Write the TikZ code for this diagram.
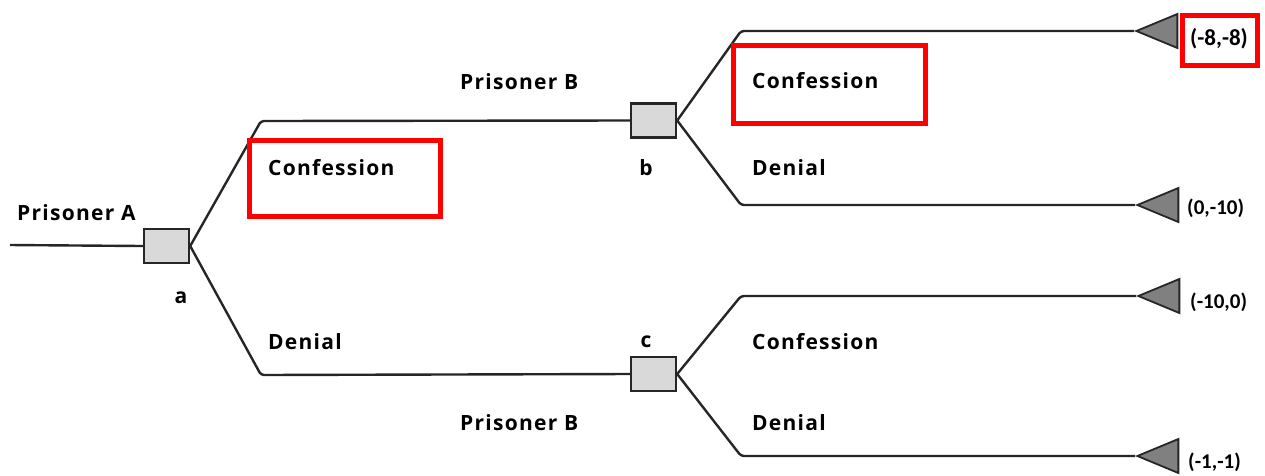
\documentclass[tikz,border=0pt]{standalone}
\usepackage{fontspec}
\setmainfont{Open Sans}
\newfontfamily\lblfont[LetterSpace=6]{Open Sans}
\newfontfamily\payfont{Carlito}
\usetikzlibrary{shapes.geometric}
\definecolor{edgegray}{HTML}{262626}
\definecolor{boxfill}{HTML}{D9D9D9}
\definecolor{tipfill}{HTML}{808080}
\definecolor{markred}{HTML}{FF0000}
\begin{document}
\begin{tikzpicture}[x=1pt,y=-1pt,
  branch/.style={draw=edgegray,line width=2.4pt,rounded corners=3pt},
  decision/.style={draw=edgegray,fill=boxfill,line width=2.4pt,rectangle,
    minimum width=45pt,minimum height=34pt,inner sep=0pt},
  payoff/.style={draw=edgegray,fill=tipfill,line width=1.8pt,isosceles triangle,
    shape border rotate=180,isosceles triangle stretches,
    minimum height=41pt,minimum width=34pt,inner sep=0pt,anchor=apex},
  lbl/.style={font=\lblfont\fontsize{21}{25}\selectfont\bfseries,inner sep=0pt,anchor=west},
  pay/.style={font=\payfont\fontsize{21}{25}\selectfont\bfseries,inner sep=0pt,anchor=west},
  hilite/.style={draw=markred,line width=5pt,rectangle,inner sep=0pt}]
\useasboundingbox (0,0) rectangle (1265,475);

% decision nodes
\node[decision] (a) at (166.5,246) {};
\node[decision] (b) at (653.5,120.5) {};
\node[decision] (c) at (653.5,374) {};

% terminal nodes
\node[payoff] (t1) at (1134,31) {};
\node[payoff] (t2) at (1135,205) {};
\node[payoff] (t3) at (1136,296) {};
\node[payoff] (t4) at (1135,456) {};

% bends of the branches
\coordinate (start) at (10,245);
\coordinate (ka) at (261,121);
\coordinate (kb) at (261,375);
\coordinate (kc) at (741,31);
\coordinate (kd) at (741,205);
\coordinate (ke) at (741,296);
\coordinate (kf) at (741,456);

\draw[branch] (start) -- (a.west);
\draw[branch] (a.east) -- (ka) -- (b.west);
\draw[branch] (a.east) -- (kb) -- (c.west);
\draw[branch] (b.east) -- (kc) -- (t1.apex);
\draw[branch] (b.east) -- (kd) -- (t2.apex);
\draw[branch] (c.east) -- (ke) -- (t3.apex);
\draw[branch] (c.east) -- (kf) -- (t4.apex);

% labels
\node[lbl] (pa) at (17,213) {Prisoner A};
\node[lbl,anchor=center] (la) at (181,298) {a};
\node[lbl] (pb1) at (460,82) {Prisoner B};
\node[lbl] (pb2) at (460,423) {Prisoner B};
\node[lbl] (conf1) at (268,168) {Confession};
\node[lbl] (den1) at (268,342) {Denial};
\node[lbl,anchor=center] (lb) at (646,168) {b};
\node[lbl,anchor=center] (lc) at (646,342) {c};
\node[lbl] (conf2) at (752,81) {Confession};
\node[lbl] (den2) at (752,168) {Denial};
\node[lbl] (conf3) at (752,342) {Confession};
\node[lbl] (den3) at (752,423) {Denial};

% payoffs
\node[pay,font=\payfont\fontsize{23}{27}\selectfont\bfseries] (p1) at (1190,39) {(-8,-8)};
\node[pay] (p2) at (1187,208) {(0,-10)};
\node[pay] (p3) at (1190,302) {(-10,0)};
\node[pay] (p4) at (1188,462) {(-1,-1)};

% highlight frames
\node[hilite,minimum width=191pt,minimum height=76pt] (h1) at (344.5,178) {};
\node[hilite,minimum width=192pt,minimum height=78pt] (h2) at (829,84) {};
\node[hilite,minimum width=75pt,minimum height=50pt] (h3) at (1219.5,40) {};
\end{tikzpicture}
\end{document}
